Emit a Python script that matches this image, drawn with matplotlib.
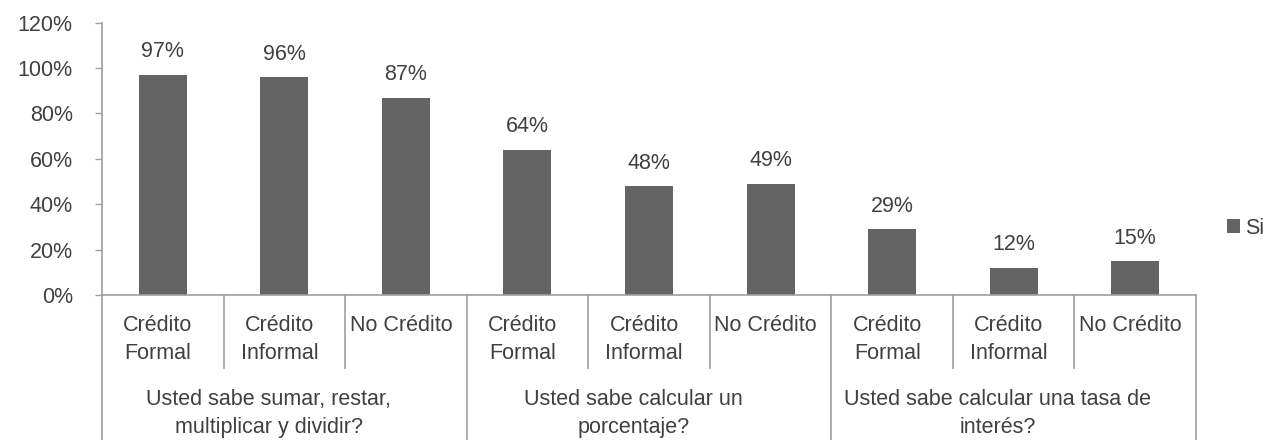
import matplotlib.pyplot as plt
from matplotlib.transforms import blended_transform_factory

# data
sub_labels = ["Crédito\nFormal", "Crédito\nInformal", "No Crédito"] * 3
group_labels = ["Usted sabe sumar, restar,\nmultiplicar y dividir?",
                "Usted sabe calcular un\nporcentaje?",
                "Usted sabe calcular una tasa de\ninterés?"]
si_values = [0.97, 0.96, 0.87, 0.64, 0.48, 0.49, 0.29, 0.12, 0.15]
yticks = [0, 0.2, 0.4, 0.6, 0.8, 1.0, 1.2]

plt.rcParams['font.family'] = ['Liberation Sans', 'DejaVu Sans']
text_color = "#404040"
line_color = "#a0a0a0"
fs = 15.5

W, H = 1266, 440
fig = plt.figure(figsize=(W / 100, H / 100), dpi=100)
x0, x1 = 102, 1196
y0, ytop = 295, 22.7
ax = fig.add_axes([x0 / W, (H - y0) / H, (x1 - x0) / W, (y0 - ytop) / H])

xs = [i + 0.5 for i in range(len(si_values))]
bars = ax.bar(xs, si_values, width=0.395, color="#646464", label="Si")
for x, v in zip(xs, si_values):
    ax.annotate(f"{round(v * 100)}%", (x, v), xytext=(0, 16.5), textcoords="offset points",
                ha="center", va="center", fontsize=fs, color=text_color)

ax.set_xlim(0, len(si_values))
ax.set_ylim(0, 1.2)
ax.set_yticks(yticks)
ax.set_yticklabels([f"{round(t * 100)}%" for t in yticks])
ax.tick_params(axis="y", length=5, width=1, color=line_color, pad=16,
               labelsize=fs, labelcolor=text_color)
ax.set_xticks([])
for s in ["top", "right"]:
    ax.spines[s].set_visible(False)
for s in ["left", "bottom"]:
    ax.spines[s].set_color(line_color)
    ax.spines[s].set_linewidth(1.2)

# hierarchical category axis
ah = y0 - ytop
def yfrac(py):
    return (y0 - py) / ah

tr = blended_transform_factory(ax.transData, ax.transAxes)
for i in range(len(si_values) + 1):
    if i % 3 == 0:
        ybot = yfrac(445)
    else:
        ybot = yfrac(368)
    ax.plot([i, i], [0, ybot], transform=tr, color=line_color, lw=1.2, clip_on=False)

for x, lab in zip(xs, sub_labels):
    ax.text(x - 0.04, yfrac(315), lab, transform=tr, ha="center", va="top",
            fontsize=fs, color=text_color, linespacing=1.45)

for g, lab in enumerate(group_labels):
    ax.text(g * 3 + 1.5 - 0.13, yfrac(389), lab, transform=tr, ha="center", va="top",
            fontsize=fs, color=text_color, linespacing=1.45)

fig.legend(handles=[bars], loc="center left", bbox_to_anchor=(1227 / W, 1 - 228 / H),
           frameon=False, fontsize=fs, handlelength=0.6, handleheight=0.6,
           handletextpad=0.25, borderpad=0, borderaxespad=0, labelcolor=text_color)

fig.savefig("out.png", dpi=100)
